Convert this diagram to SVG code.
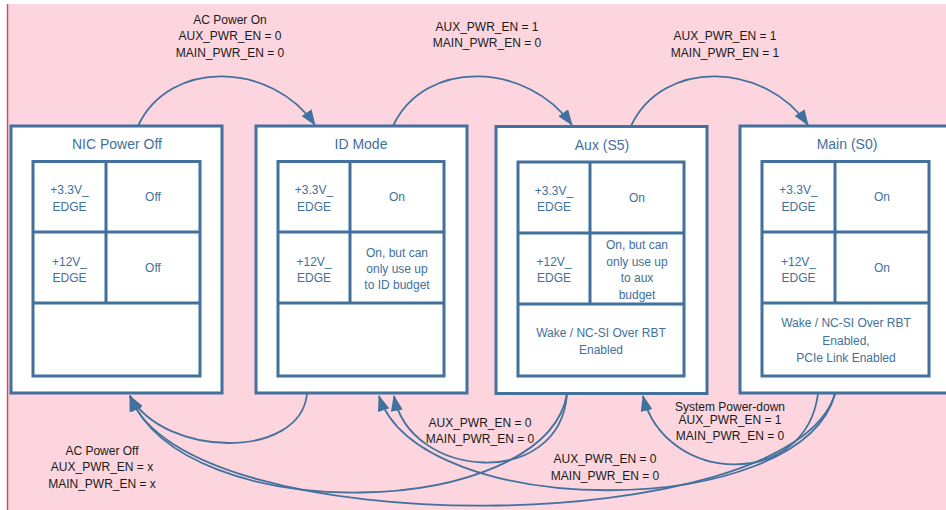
<svg xmlns="http://www.w3.org/2000/svg" width="946" height="510" viewBox="0 0 946 510">
<defs>
<style>
.box{fill:#ffffff;stroke:#41719c;stroke-width:3}
.grid{fill:none;stroke:#41719c;stroke-width:3}
.t{font-family:"Liberation Sans",Arial,sans-serif;font-size:12px;fill:#41719c;text-anchor:middle}
.title{font-family:"Liberation Sans",Arial,sans-serif;font-size:14px;fill:#41719c;text-anchor:middle}
.lbl{font-family:"Liberation Sans",Arial,sans-serif;font-size:12px;fill:#1a1a1a;text-anchor:middle}
.c{fill:none;stroke:#41719c;stroke-width:1.8;marker-end:url(#arr)}
</style>
<marker id="arr" markerWidth="16" markerHeight="12" refX="15" refY="6" orient="auto" markerUnits="userSpaceOnUse">
<path d="M0,0 L16,6 L0,12 z" fill="#41719c"/>
</marker>
</defs>
<rect x="0" y="0" width="946" height="510" fill="#ffffff"/>
<rect x="7" y="4" width="939" height="506" fill="#fcd5de"/>
<line x1="7.5" y1="4" x2="7.5" y2="510" stroke="#c8506a" stroke-width="1.5"/>

<g id="node-nic-power-off">
<rect class="box" x="11" y="126" width="211" height="267"/>
<text class="title" x="117" y="149">NIC Power Off</text>
<rect class="grid" x="33" y="161.5" width="167" height="214.5"/>
<line class="grid" x1="33" y1="232" x2="200" y2="232"/>
<line class="grid" x1="33" y1="303" x2="200" y2="303"/>
<line class="grid" x1="106" y1="161.5" x2="106" y2="303"/>
<text class="t" x="69.5" y="194">+3.3V_</text>
<text class="t" x="69.5" y="210.5">EDGE</text>
<text class="t" x="153" y="201">Off</text>
<text class="t" x="69.5" y="266">+12V_</text>
<text class="t" x="69.5" y="281.5">EDGE</text>
<text class="t" x="153" y="272">Off</text>
</g>

<g id="node-id-mode">
<rect class="box" x="256" y="126" width="211" height="267"/>
<text class="title" x="361" y="149">ID Mode</text>
<rect class="grid" x="278" y="161.5" width="166" height="214.5"/>
<line class="grid" x1="278" y1="232" x2="444" y2="232"/>
<line class="grid" x1="278" y1="303" x2="444" y2="303"/>
<line class="grid" x1="350" y1="161.5" x2="350" y2="303"/>
<text class="t" x="314" y="194">+3.3V_</text>
<text class="t" x="314" y="210.5">EDGE</text>
<text class="t" x="397" y="201">On</text>
<text class="t" x="314" y="266">+12V_</text>
<text class="t" x="314" y="281.5">EDGE</text>
<text class="t" x="397" y="257">On, but can</text>
<text class="t" x="397" y="273">only use up</text>
<text class="t" x="397" y="289">to ID budget</text>
</g>

<g id="node-aux-s5">
<rect class="box" x="496" y="126.5" width="211" height="267"/>
<text class="title" x="602" y="149.5">Aux (S5)</text>
<rect class="grid" x="518" y="162" width="166" height="214"/>
<line class="grid" x1="518" y1="233" x2="684" y2="233"/>
<line class="grid" x1="518" y1="304" x2="684" y2="304"/>
<line class="grid" x1="590" y1="162" x2="590" y2="304"/>
<text class="t" x="554" y="195">+3.3V_</text>
<text class="t" x="554" y="211">EDGE</text>
<text class="t" x="637" y="202">On</text>
<text class="t" x="554" y="266">+12V_</text>
<text class="t" x="554" y="282">EDGE</text>
<text class="t" x="637" y="249">On, but can</text>
<text class="t" x="637" y="265.5">only use up</text>
<text class="t" x="637" y="282">to aux</text>
<text class="t" x="637" y="298.5">budget</text>
<text class="t" x="601" y="337">Wake / NC-SI Over RBT</text>
<text class="t" x="601" y="354">Enabled</text>
</g>

<g id="node-main-s0">
<rect class="box" x="740" y="126" width="211" height="267"/>
<text class="title" x="847" y="149">Main (S0)</text>
<rect class="grid" x="762" y="161.5" width="167" height="214.5"/>
<line class="grid" x1="762" y1="232" x2="929" y2="232"/>
<line class="grid" x1="762" y1="303" x2="929" y2="303"/>
<line class="grid" x1="835" y1="161.5" x2="835" y2="303"/>
<text class="t" x="798.5" y="194">+3.3V_</text>
<text class="t" x="798.5" y="210.5">EDGE</text>
<text class="t" x="882" y="201">On</text>
<text class="t" x="798.5" y="266">+12V_</text>
<text class="t" x="798.5" y="281.5">EDGE</text>
<text class="t" x="882" y="272">On</text>
<text class="t" x="846" y="327">Wake / NC-SI Over RBT</text>
<text class="t" x="846" y="345">Enabled,</text>
<text class="t" x="846" y="362">PCIe Link Enabled</text>
</g>

<g id="connectors">
<path class="c" d="M138,126 C170,58 272,62 315,125"/>
<path class="c" d="M393,126 C425,58 527,62 572,125"/>
<path class="c" d="M631,126 C663,58 765,62 808,125"/>
<path class="c" d="M307,394 C300,460 165,458 130,396"/>
<path class="c" d="M567,394 C545,520 185,530 130,396"/>
<path class="c" d="M835,394 C790,540 185,545 130,396"/>
<path class="c" d="M567,394 C560,490 410,480 394,396"/>
<path class="c" d="M835,394 C800,522 420,522 379,396"/>
<path class="c" d="M818,394 C805,490 665,485 643,396"/>
</g>

<g id="labels">
<text class="lbl" x="230" y="24">AC Power On</text>
<text class="lbl" x="230" y="40">AUX_PWR_EN = 0</text>
<text class="lbl" x="230" y="57">MAIN_PWR_EN = 0</text>
<text class="lbl" x="487" y="31">AUX_PWR_EN = 1</text>
<text class="lbl" x="487" y="47">MAIN_PWR_EN = 0</text>
<text class="lbl" x="725" y="40">AUX_PWR_EN = 1</text>
<text class="lbl" x="725" y="57">MAIN_PWR_EN = 1</text>
<text class="lbl" x="102" y="455">AC Power Off</text>
<text class="lbl" x="102" y="471">AUX_PWR_EN = x</text>
<text class="lbl" x="102" y="488">MAIN_PWR_EN = x</text>
<text class="lbl" x="480" y="427">AUX_PWR_EN = 0</text>
<text class="lbl" x="480" y="443">MAIN_PWR_EN = 0</text>
<text class="lbl" x="605" y="463">AUX_PWR_EN = 0</text>
<text class="lbl" x="605" y="480">MAIN_PWR_EN = 0</text>
<text class="lbl" x="730" y="411">System Power-down</text>
<text class="lbl" x="730" y="423.5">AUX_PWR_EN = 1</text>
<text class="lbl" x="730" y="440">MAIN_PWR_EN = 0</text>
</g>
</svg>
